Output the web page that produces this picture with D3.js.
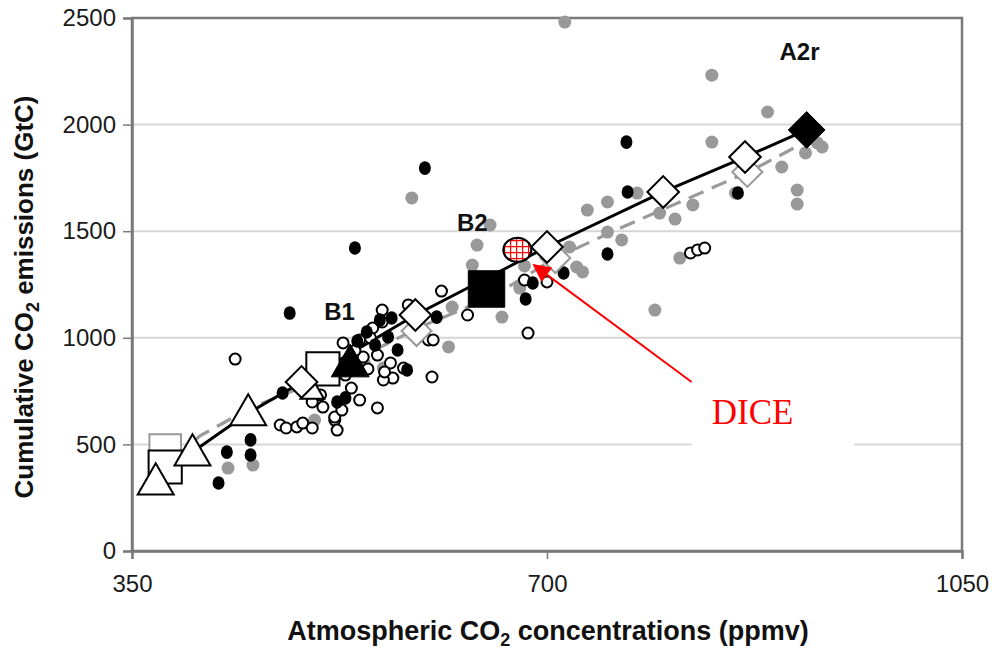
<!DOCTYPE html>
<html>
<head>
<meta charset="utf-8">
<script src="https://cdn.jsdelivr.net/npm/d3@7"></script>
<style>
  html, body { margin: 0; padding: 0; background: #fff; }
  svg { display: block; font-family: "Liberation Sans", Arial, sans-serif; }
</style>
</head>
<body>
<svg id="chart" width="995" height="651"></svg>
<script>
// Axis ticks
const xTicks = [350, 700, 1050];
const yTicks = [0, 500, 1000, 1500, 2000, 2500];

// Marker scenario path (solid black) and alternative model path (grey dashed): [ppmv, GtC]
const solidPath = [[401, 464], [448, 647], [492, 788], [589, 1107], [700, 1426], [798, 1684], [867, 1848], [919, 1975]];
const dashedPath = [[357, 286], [407, 539], [450, 671], [492, 765], [593, 1051], [652, 1187], [707, 1374], [762, 1515], [870, 1778], [913, 1904]];

// Scenario markers
const openTriangles = [[370, 314], [401, 450], [448, 638]];
const smallTriangles = [[502, 746]];
const b1End = [[534, 868]];
const openSquares = [[378, 394], [511, 854]];
const greySquares = [[378, 474]];
const b2End = [[649, 1229]];
const openDiamonds = [[493, 793], [589, 1107], [700, 1426], [798, 1684], [867, 1848]];
const greyDiamonds = [[590, 1032], [707, 1374], [869, 1778]];
const a2rEnd = [[919, 1975]];
const dicePoint = [[675, 1412]];

// Literature scenarios
const blackDots = [[423, 319], [430, 464], [450, 521], [450, 450], [477, 741], [483, 1116], [523, 699], [538, 1421],
  [597, 1796], [574, 943], [582, 849], [569, 1093], [607, 1097], [682, 1182], [688, 1257], [714, 1304], [751, 1393],
  [767, 1918], [768, 1684], [861, 1679], [548, 1027], [559, 1083], [555, 966], [566, 1004], [530, 718], [540, 985]];
const greyDots = [[715, 2481], [586, 1656], [641, 1435], [652, 1529], [637, 1341], [734, 1599], [751, 1637], [776, 1679],
  [751, 1496], [763, 1459], [719, 1426], [725, 1332], [730, 1309], [681, 1337], [677, 1233], [795, 1585], [808, 1557],
  [812, 1374], [823, 1623], [859, 1679], [791, 1130], [662, 1097], [620, 1144], [617, 957], [562, 858], [504, 614],
  [431, 389], [452, 403], [839, 2232], [886, 2059], [839, 1918], [898, 1801], [911, 1693], [911, 1627], [918, 1867],
  [932, 1895], [928, 1914], [546, 880]];
const openDots = [[437, 900], [475, 591], [480, 577], [489, 582], [494, 600], [502, 577], [521, 614], [523, 567],
  [511, 675], [502, 699], [542, 708], [557, 671], [528, 976], [553, 1046], [561, 1130], [561, 1074], [583, 1154],
  [600, 990], [604, 990], [603, 816], [570, 811], [562, 802], [568, 882], [579, 858], [521, 628], [611, 1219],
  [633, 1107], [684, 1022], [700, 1262], [681, 1271], [821, 1398], [827, 1412], [833, 1421],
  [542, 990], [545, 910], [557, 919], [549, 854], [563, 840], [535, 764], [530, 825], [509, 732], [527, 661],
  [551, 1000], [538, 940]];

// Scenario labels
const scenarioLabels = [["A2r", 913, 2303], ["B2", 637, 1501], ["B1", 525, 1083]];

// DICE callout: label anchor, arrow start, arrow tip, backing box corners
const diceLabel = [839, 596];
const diceArrow = [[822, 793], [689, 1341]];
const diceBox = [[822, 764], [959, 464]];

const svg = d3.select("#chart");
const x = d3.scaleLinear().domain([350, 1050]).range([132, 962]);
const y = d3.scaleLinear().domain([0, 2500]).range([551, 18]);

// Gridlines
svg.append("g").selectAll("line").data(yTicks.filter(v => v > 0 && v < 2500)).join("line")
  .attr("x1", x(350)).attr("x2", x(1050))
  .attr("y1", d => y(d)).attr("y2", d => y(d))
  .attr("stroke", "#d6d6d6").attr("stroke-width", 2);

// Frame
svg.append("rect")
  .attr("x", x(350)).attr("y", y(2500))
  .attr("width", x(1050) - x(350)).attr("height", y(0) - y(2500))
  .attr("fill", "none").attr("stroke", "#7a7a7a").attr("stroke-width", 2.5);

// Axes
const yAxis = svg.append("g").attr("transform", `translate(${x(350)},0)`)
  .call(d3.axisLeft(y).tickValues(yTicks).tickSize(9).tickPadding(7).tickFormat(d3.format("d")));
const xAxis = svg.append("g").attr("transform", `translate(0,${y(0)})`)
  .call(d3.axisBottom(x).tickValues(xTicks).tickSize(8).tickPadding(16).tickFormat(d3.format("d")));
[yAxis, xAxis].forEach(g => {
  g.select(".domain").attr("stroke", "#7a7a7a").attr("stroke-width", 2.5);
  g.selectAll(".tick line").attr("stroke", "#7a7a7a").attr("stroke-width", 1.5);
  g.selectAll(".tick text").attr("fill", "#1a1a1a")
    .style("font-family", "'Liberation Sans', Arial, sans-serif").style("font-size", "24px");
});

// DICE label backing box
svg.append("rect")
  .attr("x", x(diceBox[0][0])).attr("y", y(diceBox[0][1]))
  .attr("width", x(diceBox[1][0]) - x(diceBox[0][0]))
  .attr("height", y(diceBox[1][1]) - y(diceBox[0][1]))
  .attr("fill", "#fff");

// Paths
const line = d3.line().x(d => x(d[0])).y(d => y(d[1]));
svg.append("path").datum(dashedPath).attr("d", line)
  .attr("fill", "none").attr("stroke", "#9a9a9a").attr("stroke-width", 3.2)
  .attr("stroke-dasharray", "16,9");
svg.append("path").datum(solidPath).attr("d", line)
  .attr("fill", "none").attr("stroke", "#000").attr("stroke-width", 3);

// Literature dots
const dotLayer = svg.append("g");
dotLayer.selectAll(".g").data(greyDots).join("circle")
  .attr("cx", d => x(d[0])).attr("cy", d => y(d[1])).attr("r", 6.5).attr("fill", "#999");
dotLayer.selectAll(".o").data(openDots).join("circle")
  .attr("cx", d => x(d[0])).attr("cy", d => y(d[1])).attr("r", 5.5)
  .attr("fill", "#fff").attr("stroke", "#000").attr("stroke-width", 2);
dotLayer.selectAll(".b").data(blackDots).join("ellipse")
  .attr("cx", d => x(d[0])).attr("cy", d => y(d[1])).attr("rx", 6).attr("ry", 6.8).attr("fill", "#000");

// Scenario markers
function markers(data, type, size, fill, stroke, sw) {
  svg.append("g").selectAll("path").data(data).join("path")
    .attr("transform", d => `translate(${x(d[0])},${y(d[1])})`)
    .attr("d", d3.symbol().type(type).size(size)())
    .attr("fill", fill).attr("stroke", stroke).attr("stroke-width", sw);
}
const diamond = {
  draw(ctx, size) {
    const r = Math.sqrt(size) / 2;
    ctx.moveTo(0, -r); ctx.lineTo(r, 0); ctx.lineTo(0, r); ctx.lineTo(-r, 0); ctx.closePath();
  }
};
markers(greySquares, d3.symbolSquare, 1000, "#fff", "#999", 2);
markers(greyDiamonds, diamond, 900, "#fff", "#999", 2);
markers(openSquares, d3.symbolSquare, 1100, "#fff", "#000", 2);
markers(openTriangles, d3.symbolTriangle, 560, "#fff", "#000", 2);
markers(smallTriangles, d3.symbolTriangle, 240, "#fff", "#000", 2);
markers(openDiamonds, diamond, 1000, "#fff", "#000", 2);
markers(b1End, d3.symbolTriangle, 620, "#000", "#000", 1);
markers(b2End, d3.symbolSquare, 1330, "#000", "#000", 1);
markers(a2rEnd, diamond, 1350, "#000", "#000", 1);

// DICE point with red grid fill
const defs = svg.append("defs");
const pat = defs.append("pattern").attr("id", "redgrid").attr("patternUnits", "userSpaceOnUse")
  .attr("width", 6).attr("height", 6);
pat.append("rect").attr("width", 6).attr("height", 6).attr("fill", "#fff");
pat.append("path").attr("d", "M0,0H6M0,0V6").attr("stroke", "#f00").attr("stroke-width", 2.4);
svg.append("g").selectAll("ellipse").data(dicePoint).join("ellipse")
  .attr("cx", d => x(d[0])).attr("cy", d => y(d[1])).attr("rx", 14).attr("ry", 12)
  .attr("fill", "url(#redgrid)").attr("stroke", "#000").attr("stroke-width", 2.2);

// DICE arrow
defs.append("marker").attr("id", "arrowhead").attr("viewBox", "0 0 10 10")
  .attr("refX", 9).attr("refY", 5).attr("markerWidth", 22).attr("markerHeight", 18)
  .attr("markerUnits", "userSpaceOnUse").attr("orient", "auto")
  .append("path").attr("d", "M0,0L10,5L0,10Z").attr("fill", "#f00");
svg.append("line")
  .attr("x1", x(diceArrow[0][0])).attr("y1", y(diceArrow[0][1]))
  .attr("x2", x(diceArrow[1][0])).attr("y2", y(diceArrow[1][1]))
  .attr("stroke", "#f00").attr("stroke-width", 2).attr("marker-end", "url(#arrowhead)");
svg.append("text").attr("x", x(diceLabel[0])).attr("y", y(diceLabel[1]))
  .attr("fill", "#f00").style("font-family", "'Liberation Serif', 'Times New Roman', serif")
  .style("font-size", "35px").text("DICE");

// Scenario labels
svg.append("g").selectAll("text").data(scenarioLabels).join("text")
  .attr("x", d => x(d[1])).attr("y", d => y(d[2]))
  .style("font-size", "24px").style("font-weight", "bold").attr("fill", "#111")
  .attr("text-anchor", "middle").text(d => d[0]);

// Axis titles
const xt = svg.append("text").attr("x", 548).attr("y", 640).attr("text-anchor", "middle")
  .style("font-size", "27px").style("font-weight", "bold").attr("fill", "#111");
xt.append("tspan").text("Atmospheric CO");
xt.append("tspan").attr("dy", 6).style("font-size", "18px").text("2");
xt.append("tspan").attr("dy", -6).text(" concentrations (ppmv)");

const yt = svg.append("text").attr("transform", "translate(33,297) rotate(-90)").attr("text-anchor", "middle")
  .style("font-size", "26px").style("font-weight", "bold").attr("fill", "#111");
yt.append("tspan").text("Cumulative CO");
yt.append("tspan").attr("dy", 6).style("font-size", "18px").text("2");
yt.append("tspan").attr("dy", -6).text(" emissions (GtC)");
</script>
</body>
</html>
